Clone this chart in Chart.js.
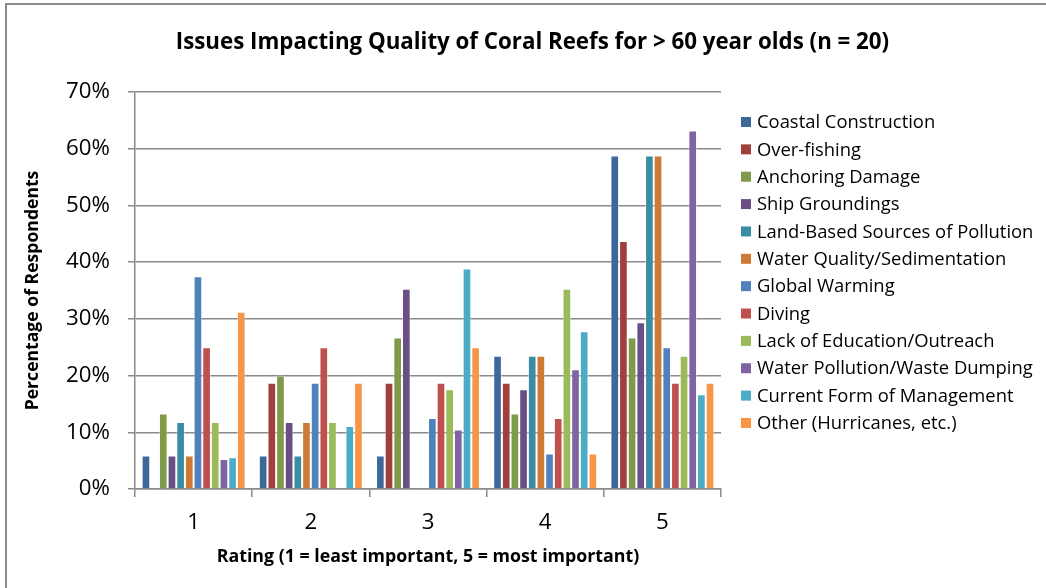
<!DOCTYPE html>
<html>
<head>
<meta charset="utf-8">
<script src="https://cdn.jsdelivr.net/npm/chart.js@4.4.1/dist/chart.umd.min.js"></script>
<style>
  html, body { margin:0; padding:0; background:#fff; }
  #wrap { position:relative; width:1046px; height:588px; overflow:hidden; }
  #frame { position:absolute; left:5px; top:3px; width:1060px; height:620px; border:2px solid #8a8a8a; box-sizing:border-box; }
  #c { position:absolute; left:0; top:0; }
</style>
</head>
<body>
<div id="wrap">
  <div id="frame"></div>
  <canvas id="c" width="1046" height="588"></canvas>
</div>
<script>
const categories = ["1", "2", "3", "4", "5"];
const seriesNames = [
  "Coastal Construction", "Over-fishing", "Anchoring Damage", "Ship Groundings",
  "Land-Based Sources of Pollution", "Water Quality/Sedimentation", "Global Warming",
  "Diving", "Lack of Education/Outreach", "Water Pollution/Waste Dumping",
  "Current Form of Management", "Other (Hurricanes, etc.)"
];
const coastalConstruction = [5.9, 5.9, 5.9, 23.5, 58.8];
const overFishing = [0, 18.75, 18.75, 18.75, 43.75];
const anchoringDamage = [13.3, 20.0, 26.7, 13.3, 26.7];
const shipGroundings = [5.9, 11.8, 35.3, 17.6, 29.4];
const landBased = [11.8, 5.9, 0, 23.5, 58.8];
const waterQuality = [5.9, 11.8, 0, 23.5, 58.8];
const globalWarming = [37.5, 18.75, 12.5, 6.25, 25.0];
const diving = [25.0, 25.0, 18.75, 12.5, 18.75];
const lackOfEducation = [11.8, 11.8, 17.6, 35.3, 23.5];
const waterPollution = [5.3, 0, 10.5, 21.1, 63.2];
const currentManagement = [5.6, 11.1, 38.9, 27.8, 16.7];
const otherHurricanes = [31.25, 18.75, 25.0, 6.25, 18.75];
const yTickLabels = ["0%", "10%", "20%", "30%", "40%", "50%", "60%", "70%"];
const chartTitle = "Issues Impacting Quality of Coral Reefs for > 60 year olds (n = 20)";
const xTitle = "Rating (1 = least important, 5 = most important)";
const yTitle = "Percentage of Respondents";

const seriesValues = [coastalConstruction, overFishing, anchoringDamage, shipGroundings,
  landBased, waterQuality, globalWarming, diving, lackOfEducation, waterPollution,
  currentManagement, otherHurricanes];
const colors = ["#3F689A", "#A0403D", "#7F9A48", "#694F86", "#3A8EA3", "#CE7A36",
  "#4F81BD", "#C0504D", "#9BBB59", "#8064A2", "#4BACC6", "#F79646"];

const FAMILY = "'Open Sans', Lato, sans-serif";
const mctx = document.createElement('canvas').getContext('2d');
function fitSize(text, weight, target) {
  mctx.font = weight + " 100px " + FAMILY;
  const w = mctx.measureText(text).width;
  return Math.round(100 * target / w * 10) / 10;
}
const titleSize = fitSize(chartTitle, 'bold', 715);
const xTitleSize = fitSize(xTitle, 'bold', 422);
const yTitleSize = fitSize(yTitle, 'bold', 240);
const legendSize = fitSize("Land-Based Sources of Pollution", 'normal', 276);
const tickSize = fitSize("70%", 'normal', 44);

const decor = {
  id: 'decor',
  afterDraw(chart) {
    const ctx = chart.ctx;
    ctx.save();
    ctx.fillStyle = '#000';
    ctx.textBaseline = 'middle';
    ctx.textAlign = 'center';
    ctx.font = "bold " + titleSize + "px " + FAMILY;
    ctx.fillText(chartTitle, 532.5, 43);
    ctx.textAlign = 'left';
    ctx.font = legendSize + "px " + FAMILY;
    chart.data.datasets.forEach((ds, i) => {
      const cy = 122 + i * 27.36;
      ctx.fillStyle = ds.backgroundColor;
      ctx.fillRect(741, cy - 5, 10, 10);
      ctx.fillStyle = '#000';
      ctx.fillText(ds.label, 757, cy + 1);
    });
    ctx.restore();
  }
};

new Chart(document.getElementById('c'), {
  type: 'bar',
  data: {
    labels: categories,
    datasets: seriesNames.map((n, i) => ({
      label: n,
      data: seriesValues[i],
      backgroundColor: colors[i],
      borderColor: 'rgba(255,255,255,0.45)',
      borderWidth: {left: 1, right: 1, top: 1, bottom: 0},
      categoryPercentage: 0.887,
      barPercentage: 1.0
    }))
  },
  plugins: [decor],
  options: {
    responsive: false,
    animation: false,
    devicePixelRatio: 1,
    layout: { padding: { left: 0, right: 325, top: 92, bottom: 0 } },
    plugins: {
      title: { display: false },
      legend: { display: false },
      tooltip: { enabled: false }
    },
    scales: {
      x: {
        afterFit: (s) => { s.height = 99; },
        grid: { offset: true, drawOnChartArea: false, drawTicks: true, tickLength: 8, color: '#8a8a8a', lineWidth: 1.5 },
        border: { color: '#8a8a8a', width: 1.5 },
        ticks: { color: '#000', font: { family: FAMILY, size: tickSize }, padding: 26 - 0.6 * tickSize },
        title: { display: true, text: xTitle, color: '#000',
                 font: { family: FAMILY, size: xTitleSize, weight: 'bold' },
                 padding: { top: 0, bottom: 31 - 0.6 * xTitleSize } }
      },
      y: {
        min: 0, max: 70,
        afterFit: (s) => { s.width = 135; },
        grid: { color: '#8a8a8a', lineWidth: 1.5, tickLength: 7 },
        border: { color: '#8a8a8a', width: 1.5 },
        ticks: { stepSize: 10, color: '#000', font: { family: FAMILY, size: tickSize }, padding: 18,
                 callback: (v) => yTickLabels[Math.round(v / 10)] },
        title: { display: true, text: yTitle, color: '#000',
                 font: { family: FAMILY, size: yTitleSize, weight: 'bold' },
                 padding: { top: 33 - 0.6 * yTitleSize, bottom: 0 } }
      }
    }
  }
});
</script>
</body>
</html>
